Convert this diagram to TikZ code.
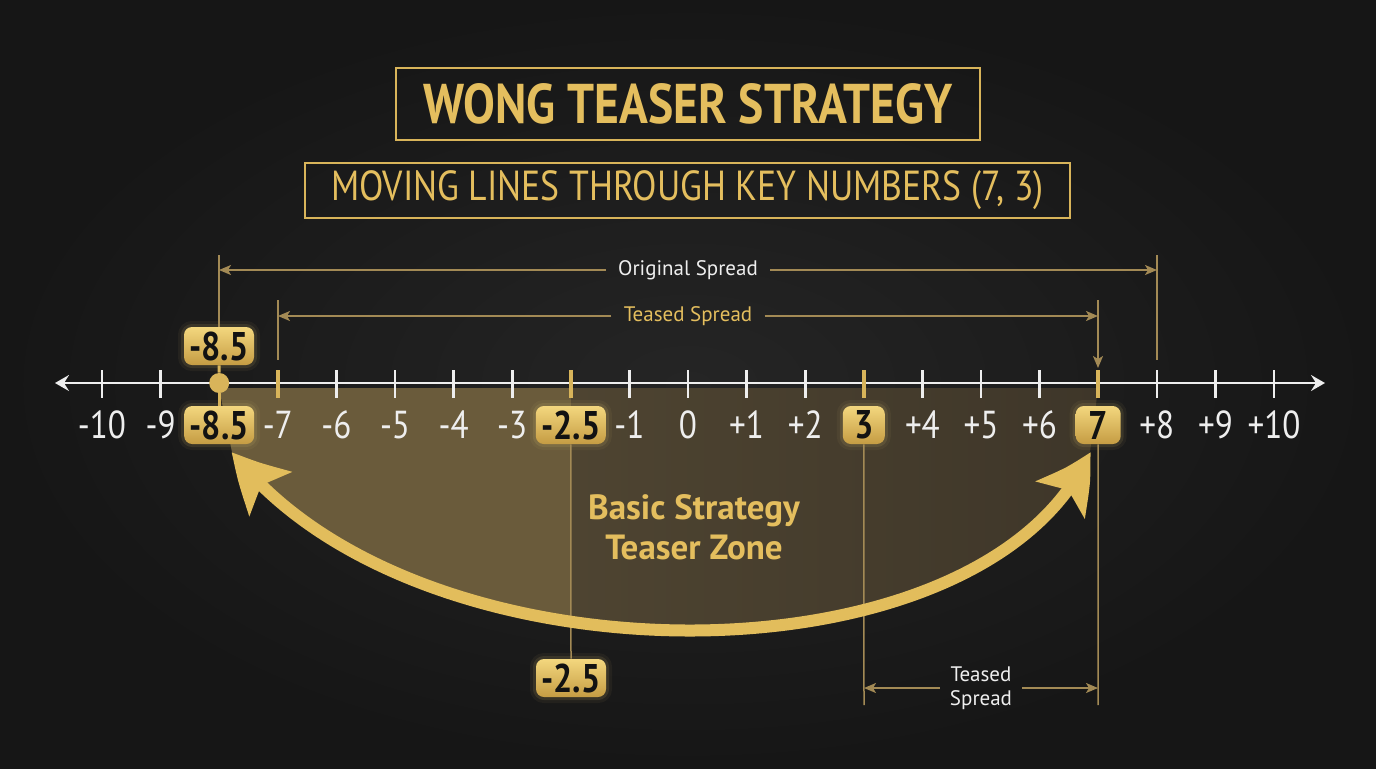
\documentclass[tikz,border=0pt]{standalone}
\usepackage{fontspec}
\setmainfont{PT Sans}
\newfontfamily\condfont{PT Sans}[FakeStretch=0.85]
\usetikzlibrary{arrows.meta,calc,bending}
\definecolor{bgin}{HTML}{252525}
\definecolor{bgout}{HTML}{161616}
\definecolor{goldtxt}{HTML}{E4BE5E}
\definecolor{goldline}{HTML}{A38A55}
\definecolor{goldtick}{HTML}{D8B45A}
\definecolor{boxtop}{HTML}{F3D77E}
\definecolor{boxbot}{HTML}{C59C43}
\definecolor{arcgold}{HTML}{E2BD5C}
\definecolor{zoneL}{HTML}{6A5B3B}
\definecolor{zoneM}{HTML}{4E4431}
\definecolor{zoneR}{HTML}{3E3629}
\definecolor{whitetxt}{HTML}{EEEEEE}
\definecolor{inkc}{HTML}{121212}
\tikzset{
  titlebox/.style={draw=goldtick, line width=1pt, text=goldtxt, inner sep=0pt},
  numlbl/.style={text=whitetxt, font=\condfont\fontsize{19.5}{22}\selectfont, inner sep=1pt},
  hibox/.style={rounded corners=4pt, top color=boxtop, bottom color=boxbot, text=inkc,
    font=\condfont\fontsize{20}{22}\selectfont\bfseries, minimum height=19pt, minimum width=35pt, inner sep=2pt,
    preaction={draw=boxtop, line width=6pt, draw opacity=0.05},
    preaction={draw=boxtop, line width=3pt, draw opacity=0.10}},
  tickw/.style={draw=whitetxt, line width=1.3pt},
  tickg/.style={draw=goldtick, line width=2pt},
  dimline/.style={draw=goldline, line width=0.75pt},
  dimtip/.style={-{Stealth[length=6pt,width=5pt,inset=1.5pt]}},
  dimlbl/.style={font=\fontsize{10.5}{12}\selectfont, inner xsep=6pt, inner ysep=1pt},
  bigarc/.style={draw=arcgold, line width=6pt,
    {Stealth[length=28pt,width=30pt,inset=6pt,bend]}-{Stealth[length=28pt,width=30pt,inset=6pt,bend]}},
}
\begin{document}
\begin{tikzpicture}[x=0.5pt,y=-0.5pt]
\useasboundingbox (0,0) rectangle (1376,768);
\shade[inner color=bgin, outer color=bgout] (0,0) rectangle (1376,768);

% titles
\node[titlebox, minimum width=292pt, minimum height=36pt, font=\condfont\fontsize{28}{30}\selectfont\bfseries] (title) at (688,104) {WONG TEASER STRATEGY};
\node[titlebox, minimum width=382.5pt, minimum height=27.5pt, font=\condfont\fontsize{21}{24}\selectfont] (subtitle) at (687.5,190.5) {MOVING LINES THROUGH KEY NUMBERS (7, 3)};

% axis positions
\foreach \n in {-10,...,10} \coordinate (t\n) at ({688+58.6*\n},383);

% zone
\begin{scope}
  \path[clip] (219,388) -- (232,452) .. controls (415,690) and (984,690) .. (1090,452) -- (1098,388) -- cycle;
  \fill[zoneL] (200,380) rectangle (571,700);
  \shade[left color=zoneM, right color=zoneR] (571,380) rectangle (1100,700);
\end{scope}

% axis
\coordinate (axL) at (55,383);
\coordinate (axR) at (1325,383);
\draw[whitetxt, line width=1.4pt, {Stealth[length=7pt,width=8pt,inset=2.5pt]}-{Stealth[length=7pt,width=8pt,inset=2.5pt]}] (axL) -- (axR);
\foreach \n in {-10,-9,-6,-5,-4,-3,-1,0,1,2,4,5,6,8,9,10}
  \draw[tickw] ($(t\n)+(0,-13)$) -- ($(t\n)+(0,15)$);
\foreach \n in {-7,-2,3,7}
  \draw[tickg] ($(t\n)+(0,-13)$) -- ($(t\n)+(0,15)$);

% number labels
\foreach \n/\l in {-10/-10,-9/-9,-7/-7,-6/-6,-5/-5,-4/-4,-3/-3,-1/-1,0/0,1/+1,2/+2,4/+4,5/+5,6/+6,8/+8,9/+9,10/+10}
  \node[numlbl] (l\n) at ($(t\n)+(0,42)$) {\l};

% highlighted boxes
\node[hibox] (b85) at ($(t-8)+(0,42)$) {-8.5};
\node[hibox] (b25) at ($(t-2)+(0,42)$) {-2.5};
\node[hibox, minimum width=21pt] (b3) at ($(t3)+(0,42)$) {3};
\node[hibox, minimum width=22.5pt] (b7) at ($(t7)+(0,42)$) {7};
\node[hibox] (b85u) at (219,346) {-8.5};
\node[hibox] (b25low) at (571,678) {-2.5};

% dot at -8.5
\node[circle, fill=goldtick, minimum size=10pt, inner sep=0pt] (dot) at (t-8) {};
\draw[goldtick, line width=1.5pt] (b85u.south) -- (dot.north);
\draw[goldtick, line width=1.5pt] (dot.south) -- (b85.north);

% original spread
\coordinate (os1) at (219,255);
\coordinate (os2) at (1157,255);
\coordinate (os2b) at (1157,360);
\coordinate (osL) at (219,270);
\coordinate (osR) at (1157,270);
\draw[dimline] (os1) -- (b85u.north);
\draw[dimline] (os2) -- (os2b);
\node[dimlbl, text=whitetxt] (osl) at (688,270) {Original Spread};
\draw[dimline, dimtip] (osl.west) -- (osL);
\draw[dimline, dimtip] (osl.east) -- (osR);

% teased spread (top)
\coordinate (ts1) at (278,300);
\coordinate (ts1b) at (278,360);
\coordinate (ts2) at (1098,300);
\coordinate (ts2b) at (1098,368);
\coordinate (tsL) at (278,316);
\coordinate (tsR) at (1098,316);
\draw[dimline] (ts1) -- (ts1b);
\draw[dimline, dimtip] (ts2) -- (ts2b);
\node[dimlbl, text=goldtxt] (tsl) at (688,316) {Teased Spread};
\draw[dimline, dimtip] (tsl.west) -- (tsL);
\draw[dimline, dimtip] (tsl.east) -- (tsR);

% lower verticals
\coordinate (d3) at (864,705);
\coordinate (d7) at (1098,705);
\draw[dimline] (b25.south) -- (b25low.north);
\draw[dimline] (b3.south) -- (d3);
\draw[dimline] (b7.south) -- (d7);

% teased spread (bottom)
\coordinate (tbL) at (864,688);
\coordinate (tbR) at (1098,688);
\node[dimlbl, text=whitetxt, align=center, inner xsep=5pt] (tsb) at (981,688) {Teased\\Spread};
\draw[dimline, dimtip] (tsb.west) -- (tbL);
\draw[dimline, dimtip] (tsb.east) -- (tbR);

% big curved arrow
\coordinate (aL) at (232,452);
\coordinate (aR) at (1090,452);
\draw[bigarc] (aL) .. controls (415,690) and (984,690) .. (aR);

% zone label
\node[font=\fontsize{17.5}{20}\selectfont\bfseries, text=goldtxt, align=center] (zonelbl) at (694,527) {Basic Strategy\\Teaser Zone};
\end{tikzpicture}
\end{document}
